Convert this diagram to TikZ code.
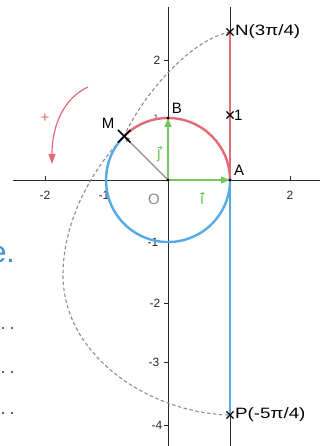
\documentclass[tikz,border=0pt]{standalone}
\usepackage{fontspec}
\setmainfont{Liberation Sans}
\usetikzlibrary{arrows.meta,shapes.misc}
\definecolor{redc}{RGB}{226,106,116}
\definecolor{bluec}{RGB}{86,170,226}
\definecolor{greenc}{RGB}{118,200,92}
\definecolor{axisc}{RGB}{40,40,40}
\definecolor{dashc}{RGB}{140,140,140}
\definecolor{textblue}{RGB}{70,140,200}
\tikzset{
  axisline/.style={axisc, line width=0.8pt},
  thickred/.style={redc, line width=2.4pt},
  thickblue/.style={bluec, line width=2.4pt},
  vecarrow/.style={greenc, line width=1.5pt, -{Triangle[length=9pt,width=7pt]}},
  vecacc/.style={greenc, line width=0.9pt, -{Straight Barb[length=1.6pt,width=3pt]}},
  lbl/.style={font=\fontsize{15}{15}\selectfont, inner sep=0pt},
  ticklbl/.style={font=\fontsize{12}{12}\selectfont, text=axisc, inner sep=0pt},
  xmark/.style={draw=black, cross out, minimum size=6pt, inner sep=0pt, line width=1.2pt},
  bigxmark/.style={draw=black, cross out, minimum size=11pt, inner sep=0pt, line width=1.6pt},
  dotpt/.style={circle, fill=black, inner sep=0pt, minimum size=3.2pt},
  leader/.style={circle, fill=black!80, inner sep=0pt, minimum size=2.2pt},
  tickmark/.style={axisc, line width=0.8pt},
  wrapline/.style={dashc, line width=1.1pt, dash pattern=on 3.5pt off 2.5pt},
}
\begin{document}
\begin{tikzpicture}[x=1pt,y=1pt]
\useasboundingbox (-168,-266) rectangle (159,180);
% key coordinates
\coordinate (O) at (0,0);
\coordinate (A) at (62,0);
\coordinate (B) at (0,62);
\coordinate (M) at (-43.8,43.8);
\coordinate (N) at (62,148);
\coordinate (U) at (62,65);
\coordinate (P) at (62,-235);
\coordinate (L) at (-105,-95);
\coordinate (xl) at (-155,0);
\coordinate (xr) at (152,0);
\coordinate (yt) at (0,173);
\coordinate (yb) at (0,-266);
\coordinate (tt) at (62,173);
\coordinate (tb) at (62,-266);
% axes and tangent line
\draw[axisline] (xl) -- (xr);
\draw[axisline] (yt) -- (yb);
\draw[axisline] (tt) -- (tb);
% ticks
\foreach \x in {-123,-63,122} \draw[tickmark] (\x,0) -- (\x,4);
\foreach \y in {120,62,-62,-123,-182,-245} \draw[tickmark] (0,\y) -- (-4,\y);
\node[ticklbl] (tx1) at (-123,-15) {-2};
\node[ticklbl] (tx2) at (-64,-15) {-1};
\node[ticklbl] (tx3) at (122,-15) {2};
\node[ticklbl] (ty1) at (-11,120) {2};
\node[ticklbl, font=\fontsize{8}{8}\selectfont] (ty2) at (-12,62) {1};
\node[ticklbl] (ty3) at (-15,-62) {-1};
\node[ticklbl] (ty4) at (-13,-123) {-2};
\node[ticklbl] (ty5) at (-14,-182) {-3};
\node[ticklbl] (ty6) at (-11,-245) {-4};
% dashed wrapping curves
\draw[wrapline] (N) .. controls (20,140) and (-28,80) .. (M);
\draw[wrapline] (M) .. controls (-75,12) and (-105,-40) .. (L)
                    .. controls (-105,-175) and (-20,-233) .. (P);
% circle arcs
\draw[thickred] (A) arc[start angle=0, end angle=135, radius=62];
\draw[thickblue] (M) arc[start angle=135, end angle=360, radius=62];
% tangent coloured parts
\draw[thickred] (A) -- (N);
\draw[thickblue] (A) -- (P);
% vectors
\draw[vecarrow] (O) -- (A);
\draw[vecarrow] (O) -- (B);
\draw[black!45, line width=1.1pt, -{Triangle[length=6pt,width=5pt]}] (O) -- (M);
% points
\node[dotpt] (Od) at (O) {};
\node[dotpt] (Ad) at (A) {};
\node[dotpt] (Bd) at (B) {};
\node[bigxmark] (Mx) at (M) {};
\node[xmark] (Nx) at (N) {};
\node[xmark] (Ux) at (U) {};
\node[xmark] (Px) at (P) {};
% labels
\node[lbl] (Ml) at (-60,57) {M};
\node[lbl] (Bl) at (9,72) {B};
\node[lbl] (Al) at (71,10) {A};
\node[lbl, text=black!45] (Ol) at (-14,-19) {O};
\node[lbl, text=greenc, font=\fontsize{16}{16}\selectfont] (il) at (34,-20) {ı};
\node[lbl, text=greenc, font=\fontsize{16}{16}\selectfont] (jl) at (-9,24) {ȷ};
\draw[vecacc] ([xshift=-2.5pt,yshift=2pt]il.north) -- ([xshift=2.5pt,yshift=2pt]il.north);
\draw[vecacc] ([xshift=-1.5pt,yshift=2pt]jl.north) -- ([xshift=3.5pt,yshift=2pt]jl.north);
\node[lbl, anchor=west] (Nl) at (67,148) {\scalebox{1.25}[1]{N(3π/4)}};
\node[lbl, anchor=west] (Ul) at (66,65) {1};
\node[lbl, anchor=west] (Pl) at (67,-235) {\scalebox{1.25}[1]{P(-5π/4)}};
% orientation arrow
\coordinate (r1) at (-80,93);
\coordinate (r2) at (-116,16);
\draw[redc, line width=1.2pt, -{Triangle[length=10pt,width=7pt]}] (r1) .. controls (-104,82) and (-116,55) .. (r2);
\node[lbl, text=redc, font=\fontsize{15}{15}\selectfont] (plus) at (-123,62) {+};
% cut text at left edge
\node[inner sep=0pt, anchor=base east, text=textblue, font=\fontsize{30}{30}\selectfont] (etxt) at (-153,-82) {e.};
\foreach \yy in {-148,-192,-233} {
  \node[leader] at (-165,\yy) {};
  \node[leader] at (-156,\yy) {};
}
\end{tikzpicture}
\end{document}
